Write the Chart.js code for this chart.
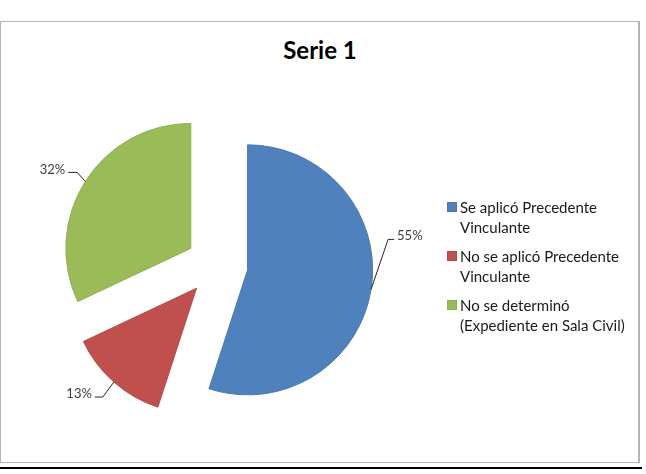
<!DOCTYPE html>
<html lang="es">
<head>
    <meta charset="UTF-8">
    <title>Serie 1</title>
    <script src="https://cdn.jsdelivr.net/npm/chart.js"></script>
    <style>
        body {
            margin: 0;
            background-color: #ffffff;
            font-family: Lato, "Open Sans", sans-serif;
        }
        .frame {
            position: absolute;
            left: 0;
            top: 21px;
            width: 640px;
            height: 442px;
            border: 1px solid #b4b4b4;
            border-right: 2px solid #b4b4b4;
            box-sizing: border-box;
        }
        .bottom-rule {
            position: absolute;
            left: 0;
            top: 467px;
            width: 642px;
            height: 2px;
            background-color: #000;
        }
        .chart-title {
            position: absolute;
            left: 0;
            width: 640px;
            top: 35px;
            text-align: center;
            font-weight: bold;
            font-size: 24px;
            color: #000;
        }
        #chartCanvas {
            position: absolute;
            left: 0;
            top: 0;
        }
        .legend {
            position: absolute;
            left: 447px;
            top: 197px;
            width: 190px;
        }
        .legend-item {
            position: relative;
            padding-left: 13px;
            margin-bottom: 9px;
            font-size: 15px;
            line-height: 20px;
            color: #1a1a1a;
        }
        .legend-box {
            position: absolute;
            left: 0;
            top: 5px;
            width: 10px;
            height: 10px;
            box-sizing: border-box;
        }
    </style>
</head>
<body>
    <div class="frame"></div>
    <div class="bottom-rule"></div>
    <div class="chart-title" id="chartTitle"></div>
    <canvas id="chartCanvas" width="646" height="474"></canvas>
    <div class="legend" id="legend"></div>

    <script>
        const chartTitle = 'Serie 1';
        const categories = [
            'Se aplicó Precedente Vinculante',
            'No se aplicó Precedente Vinculante',
            'No se determinó (Expediente en Sala Civil)'
        ];
        const values = [55, 13, 32];
        const valueLabels = ['55%', '13%', '32%'];

        const fillColors = ['#4f81bd', '#c0504d', '#9bbb59'];
        const edgeColors = ['#4a78b0', '#b44b48', '#91b053'];

        // how far each slice is pulled out from the centre (px)
        const explodeDist = 31;

        // leader line shape per slice: [elbow dx, elbow dy, tail dx]
        const leaders = [[17, -50, 6], [-11, 15, -8], [-8, -9, -9]];

        document.getElementById('chartTitle').textContent = chartTitle;

        // html legend
        const legendEl = document.getElementById('legend');
        categories.forEach(function (cat, i) {
            const item = document.createElement('div');
            item.className = 'legend-item';
            const box = document.createElement('span');
            box.className = 'legend-box';
            box.style.backgroundColor = fillColors[i];
            box.style.border = '1px solid ' + edgeColors[i];
            item.appendChild(box);
            item.appendChild(document.createTextNode(cat));
            legendEl.appendChild(item);
        });

        const explodePlugin = {
            id: 'explode',
            afterDatasetUpdate(chart, args) {
                args.meta.data.forEach(function (arc) {
                    const mid = (arc.startAngle + arc.endAngle) / 2;
                    arc.x += Math.cos(mid) * explodeDist;
                    arc.y += Math.sin(mid) * explodeDist;
                });
            }
        };

        const labelPlugin = {
            id: 'sliceLabels',
            afterDatasetsDraw(chart) {
                const ctx = chart.ctx;
                const arcs = chart.getDatasetMeta(0).data;
                ctx.save();
                ctx.font = '13px Lato, "Open Sans", sans-serif';
                ctx.textBaseline = 'middle';
                arcs.forEach(function (arc, i) {
                    const mid = (arc.startAngle + arc.endAngle) / 2;
                    const px = arc.x + Math.cos(mid) * arc.outerRadius;
                    const py = arc.y + Math.sin(mid) * arc.outerRadius;
                    const lp = leaders[i];
                    const ex = px + lp[0];
                    const ey = py + lp[1];
                    const tx = ex + lp[2];
                    ctx.strokeStyle = '#262626';
                    ctx.lineWidth = 1;
                    ctx.beginPath();
                    ctx.moveTo(px, py);
                    ctx.lineTo(ex, ey);
                    ctx.lineTo(tx, ey);
                    ctx.stroke();
                    ctx.fillStyle = '#404040';
                    if (lp[2] > 0) {
                        ctx.textAlign = 'left';
                        ctx.fillText(valueLabels[i], tx + 3, ey - 4);
                    } else {
                        ctx.textAlign = 'right';
                        ctx.fillText(valueLabels[i], tx - 3, ey - 3);
                    }
                });
                ctx.restore();
            }
        };

        const pieChart = new Chart(document.getElementById('chartCanvas'), {
            type: 'pie',
            data: {
                labels: categories,
                datasets: [{
                    data: values,
                    backgroundColor: fillColors,
                    borderColor: edgeColors,
                    borderWidth: 1
                }]
            },
            options: {
                responsive: false,
                animation: false,
                radius: 125,
                layout: {
                    padding: { left: 20, right: 232, top: 80, bottom: 24 }
                },
                plugins: {
                    legend: { display: false },
                    tooltip: { enabled: false }
                }
            },
            plugins: [explodePlugin, labelPlugin]
        });
    </script>
</body>
</html>
